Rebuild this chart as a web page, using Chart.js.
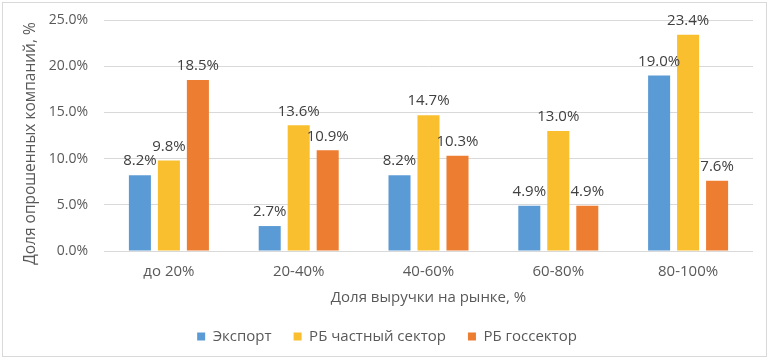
<!DOCTYPE html>
<html>
<head>
<meta charset="utf-8">
<script src="https://cdn.jsdelivr.net/npm/chart.js@4/dist/chart.umd.min.js"></script>
<style>
  html, body { margin: 0; padding: 0; background: #fff; }
  #wrap { position: relative; width: 770px; height: 360px; }
  #frame { position: absolute; left: 2px; top: 2px; width: 763px; height: 353px;
           border: 1px solid #d9d9d9; pointer-events: none; }
</style>
</head>
<body>
<div id="wrap">
  <canvas id="chart" width="770" height="360"></canvas>
  <div id="frame"></div>
</div>
<script>
// данные с диаграммы
const categories = ['до 20%', '20-40%', '40-60%', '60-80%', '80-100%'];
const seriesNames = ['Экспорт', 'РБ частный сектор', 'РБ госсектор'];
const exportVals = [8.2, 2.7, 8.2, 4.9, 19.0];
const privateVals = [9.8, 13.6, 14.7, 13.0, 23.4];
const stateVals = [18.5, 10.9, 10.3, 4.9, 7.6];
const yTicks = [0, 5, 10, 15, 20, 25];

const FONT = '"Open Sans", "DejaVu Sans", sans-serif';
const colors = ['#5b9bd5', '#f9bf2f', '#ed7d31'];

function fmtPct(v){
  return v.toFixed(1) + '%';
}

// подписи значений над столбцами
const barLabels = {
  id: 'barLabels',
  afterDatasetsDraw(chart){
    const ctx = chart.ctx;
    ctx.save();
    ctx.font = '15px ' + FONT;
    ctx.fillStyle = '#404040';
    ctx.textAlign = 'center';
    ctx.textBaseline = 'middle';
    chart.data.datasets.forEach((ds, i) => {
      chart.getDatasetMeta(i).data.forEach((bar, j) => {
        ctx.fillText(fmtPct(ds.data[j]), bar.x, bar.y - 14);
      });
    });
    ctx.restore();
  }
};

const datasets = [exportVals, privateVals, stateVals].map((vals, i) => ({
  label: seriesNames[i],
  data: vals,
  backgroundColor: colors[i],
  barPercentage: 0.76,
  categoryPercentage: 0.67
}));

new Chart(document.getElementById('chart'), {
  type: 'bar',
  data: { labels: categories, datasets },
  plugins: [barLabels],
  options: {
    responsive: false,
    animation: false,
    layout: { padding: { left: 21, right: 17, top: 20, bottom: 6 } },
    plugins: {
      legend: {
        position: 'bottom',
        labels: {
          boxWidth: 8, boxHeight: 8, padding: 22,
          color: '#595959', font: { family: FONT, size: 15 }
        }
      },
      tooltip: { enabled: false }
    },
    scales: {
      x: {
        grid: { display: false },
        border: { display: false },
        ticks: { color: '#595959', padding: 4, font: { family: FONT, size: 15 } },
        title: {
          display: true, text: 'Доля выручки на рынке, %',
          color: '#595959', font: { family: FONT, size: 15 }, padding: { top: 4, bottom: 0 }
        }
      },
      y: {
        min: 0, max: 25,
        afterBuildTicks(scale){ scale.ticks = yTicks.map(v => ({ value: v })); },
        afterFit(scale){
          scale.width = 83;
          scale.paddingTop = 0;
          scale.paddingBottom = 0;
        },
        grid: { color: '#d9d9d9', drawTicks: false },
        border: { display: false },
        ticks: {
          color: '#595959', padding: 16, font: { family: FONT, size: 14 },
          callback: v => fmtPct(v)
        },
        title: {
          display: true, text: 'Доля опрошенных компаний, %    ',
          color: '#595959', font: { family: FONT, size: 15.5 }, padding: { top: 0, bottom: 4 }
        }
      }
    }
  }
});
</script>
</body>
</html>
